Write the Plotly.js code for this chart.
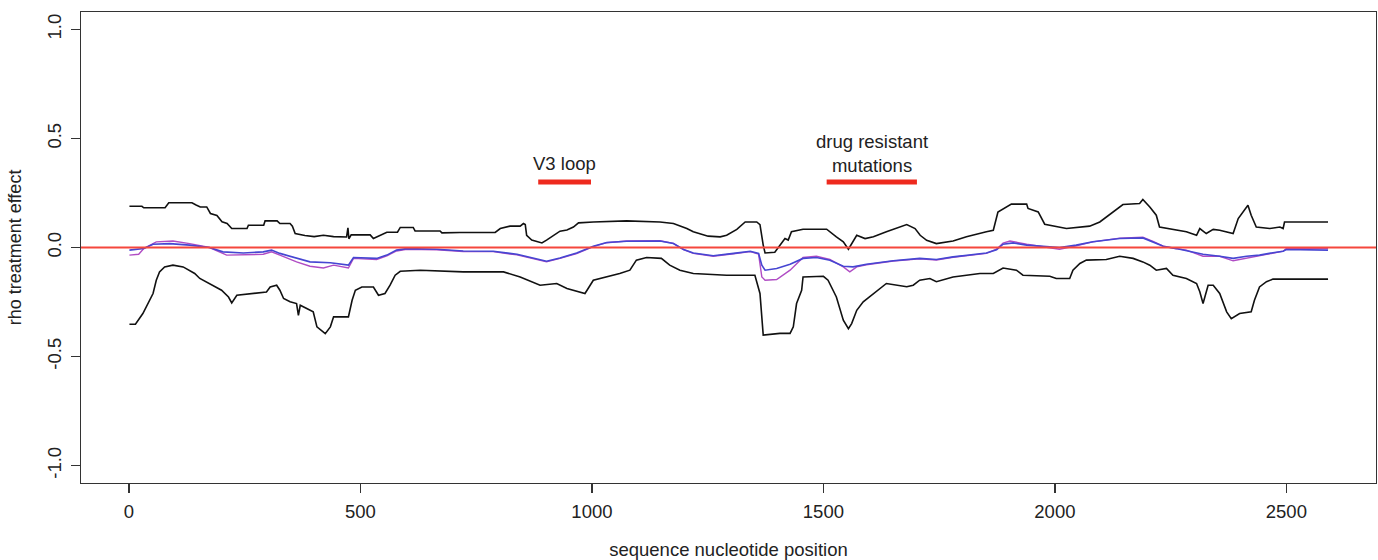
<!DOCTYPE html>
<html>
<head>
<meta charset="utf-8">
<script src="https://cdn.plot.ly/plotly-3.0.1.min.js"></script>
<style>html,body{margin:0;padding:0;background:#fff;}#chart{width:1378px;height:560px;}</style>
</head>
<body>
<div id="chart"></div>
<script>
// Upper interval bound (black)
const upperX = [1,28,32,78,86,136,145,154,168,176,190,201,212,222,255,258,291,294,320,326,348,353,359,380,400,420,442,470,473,475,480,521,528,536,550,557,580,586,614,618,672,676,715,791,802,823,845,852,856,859,870,892,902,917,931,946,960,971,1003,1075,1147,1176,1205,1219,1251,1277,1291,1313,1331,1356,1363,1370,1374,1395,1406,1417,1424,1431,1456,1507,1528,1543,1554,1564,1572,1590,1608,1636,1680,1698,1709,1723,1744,1780,1809,1852,1867,1877,1906,1939,1942,1964,1978,2025,2075,2097,2122,2147,2183,2190,2205,2219,2226,2255,2284,2306,2313,2327,2342,2356,2385,2396,2406,2417,2424,2435,2464,2486,2493,2496,2590];
const upperY = [0.189,0.189,0.182,0.182,0.205,0.205,0.195,0.186,0.186,0.156,0.147,0.118,0.110,0.087,0.087,0.102,0.102,0.122,0.122,0.110,0.110,0.098,0.064,0.055,0.050,0.056,0.050,0.048,0.090,0.040,0.058,0.058,0.041,0.048,0.064,0.070,0.070,0.092,0.092,0.076,0.076,0.067,0.069,0.069,0.087,0.098,0.098,0.110,0.105,0.056,0.034,0.021,0.034,0.056,0.075,0.080,0.094,0.113,0.117,0.122,0.117,0.110,0.087,0.072,0.052,0.049,0.056,0.083,0.117,0.117,0.105,0.011,-0.025,-0.022,0.011,0.041,0.034,0.072,0.084,0.084,0.049,0.026,-0.008,0.026,0.056,0.041,0.049,0.072,0.105,0.087,0.056,0.033,0.018,0.030,0.049,0.072,0.079,0.163,0.199,0.199,0.179,0.163,0.107,0.087,0.098,0.117,0.156,0.197,0.202,0.220,0.186,0.148,0.094,0.083,0.072,0.056,0.087,0.064,0.083,0.079,0.064,0.133,0.163,0.194,0.148,0.094,0.087,0.094,0.087,0.117,0.117];

// Lower interval bound (black)
const lowerX = [1,14,30,41,52,59,66,77,95,117,131,142,153,167,182,200,215,222,233,261,297,305,319,326,334,348,362,366,370,384,398,406,424,435,442,474,482,489,503,528,539,553,564,575,586,629,722,809,845,888,924,946,985,1003,1032,1060,1082,1096,1118,1150,1168,1190,1219,1291,1352,1363,1370,1406,1428,1435,1442,1453,1456,1500,1510,1528,1543,1554,1561,1572,1586,1608,1622,1636,1680,1694,1708,1730,1744,1780,1838,1867,1888,1917,1931,1989,2003,2032,2039,2054,2068,2111,2140,2169,2190,2205,2219,2241,2255,2284,2306,2313,2320,2331,2342,2356,2371,2381,2399,2424,2431,2442,2457,2471,2493,2590];
const lowerY = [-0.352,-0.352,-0.303,-0.257,-0.211,-0.150,-0.112,-0.089,-0.081,-0.089,-0.104,-0.119,-0.142,-0.157,-0.173,-0.196,-0.227,-0.254,-0.219,-0.211,-0.204,-0.181,-0.173,-0.196,-0.234,-0.249,-0.257,-0.311,-0.265,-0.280,-0.295,-0.364,-0.395,-0.364,-0.318,-0.318,-0.242,-0.196,-0.181,-0.181,-0.219,-0.211,-0.173,-0.127,-0.109,-0.104,-0.112,-0.112,-0.135,-0.173,-0.165,-0.188,-0.211,-0.150,-0.135,-0.119,-0.104,-0.058,-0.046,-0.050,-0.081,-0.104,-0.119,-0.127,-0.127,-0.211,-0.402,-0.394,-0.394,-0.364,-0.257,-0.196,-0.135,-0.132,-0.150,-0.227,-0.333,-0.372,-0.349,-0.288,-0.249,-0.211,-0.188,-0.165,-0.180,-0.173,-0.150,-0.142,-0.157,-0.135,-0.119,-0.119,-0.094,-0.104,-0.127,-0.132,-0.142,-0.142,-0.104,-0.073,-0.058,-0.055,-0.040,-0.050,-0.066,-0.081,-0.104,-0.096,-0.127,-0.142,-0.165,-0.203,-0.257,-0.173,-0.173,-0.211,-0.295,-0.326,-0.303,-0.295,-0.242,-0.181,-0.157,-0.145,-0.145,-0.145];

// Estimate 1 (blue)
const blueX = [1,32,52,88,131,174,203,247,290,308,326,362,391,435,474,485,535,557,578,600,665,722,787,838,874,902,931,967,1003,1032,1075,1147,1176,1198,1219,1262,1306,1342,1360,1367,1374,1399,1428,1456,1485,1514,1543,1564,1593,1651,1708,1744,1780,1852,1874,1888,1910,1939,2010,2046,2082,2140,2190,2212,2234,2262,2284,2320,2356,2385,2414,2442,2471,2493,2500,2590];
const blueY = [-0.012,-0.005,0.015,0.018,0.011,0.000,-0.020,-0.025,-0.020,-0.012,-0.027,-0.050,-0.066,-0.070,-0.081,-0.046,-0.050,-0.035,-0.012,-0.005,-0.008,-0.016,-0.017,-0.031,-0.050,-0.063,-0.048,-0.025,0.006,0.023,0.029,0.030,0.018,-0.009,-0.025,-0.038,-0.027,-0.017,-0.027,-0.081,-0.104,-0.096,-0.077,-0.050,-0.046,-0.058,-0.086,-0.089,-0.077,-0.061,-0.050,-0.055,-0.043,-0.025,-0.010,0.015,0.021,0.011,0.000,0.011,0.026,0.041,0.044,0.026,0.006,-0.005,-0.016,-0.031,-0.040,-0.050,-0.040,-0.035,-0.024,-0.017,-0.009,-0.012];

// Estimate 2 (purple)
const purpleX = [1,21,32,59,95,131,174,211,290,308,326,362,391,420,442,474,485,535,557,578,600,665,722,787,838,874,902,931,967,1003,1032,1075,1147,1176,1198,1219,1262,1306,1342,1360,1367,1374,1399,1428,1456,1485,1514,1543,1557,1572,1593,1651,1708,1744,1780,1852,1874,1888,1903,1939,2010,2046,2082,2140,2190,2212,2234,2262,2284,2320,2356,2385,2399,2442,2471,2493,2500,2590];
const purpleY = [-0.035,-0.031,-0.005,0.026,0.030,0.018,0.000,-0.035,-0.031,-0.020,-0.035,-0.066,-0.086,-0.094,-0.081,-0.094,-0.050,-0.055,-0.038,-0.016,-0.008,-0.010,-0.018,-0.019,-0.034,-0.053,-0.066,-0.050,-0.028,0.004,0.022,0.030,0.031,0.019,-0.010,-0.027,-0.040,-0.029,-0.019,-0.030,-0.135,-0.150,-0.147,-0.104,-0.046,-0.040,-0.055,-0.089,-0.112,-0.089,-0.079,-0.062,-0.052,-0.057,-0.045,-0.027,-0.008,0.020,0.030,0.015,-0.008,0.008,0.026,0.043,0.047,0.028,0.006,-0.005,-0.012,-0.040,-0.040,-0.061,-0.055,-0.038,-0.026,-0.017,-0.004,-0.004];

// Highlighted regions
const regionLabels = ["V3 loop", "drug resistant<br>mutations"];
const regionStart = [884, 1507];
const regionEnd = [998, 1702];
const regionBarY = [0.30, 0.30];
const regionLabelY = [0.385, 0.43];

// Axis ticks
const xTicks = [0, 500, 1000, 1500, 2000, 2500];
const yTicks = [-1, -0.5, 0, 0.5, 1];
const yTickText = ["-1.0", "-0.5", "0.0", "0.5", "1.0"];
const zeroLine = 0;

const FONT = '"Liberation Sans", Arial, Helvetica, sans-serif';
const TXT = '#222222';

const traces = [
  {x: upperX, y: upperY, mode: 'lines', line: {color: '#111111', width: 1.6}, hoverinfo: 'skip'},
  {x: lowerX, y: lowerY, mode: 'lines', line: {color: '#111111', width: 1.6}, hoverinfo: 'skip'},
  {x: purpleX, y: purpleY, mode: 'lines', line: {color: '#b04cc4', width: 1.4}, hoverinfo: 'skip'},
  {x: blueX, y: blueY, mode: 'lines', line: {color: '#4646d2', width: 1.6}, hoverinfo: 'skip'}
];
regionLabels.forEach((lab, i) => {
  traces.push({x: [regionStart[i], regionEnd[i]], y: [regionBarY[i], regionBarY[i]], mode: 'lines',
    line: {color: '#ee2a1e', width: 5}, hoverinfo: 'skip'});
});

const annotations = regionLabels.map((lab, i) => ({
  x: (regionStart[i] + regionEnd[i]) / 2, y: regionLabelY[i], xref: 'x', yref: 'y',
  text: lab, showarrow: false, font: {family: FONT, size: 18.5, color: TXT}, align: 'center'
}));

const layout = {
  width: 1378, height: 560,
  margin: {l: 81, r: 2, t: 12, b: 77},
  paper_bgcolor: '#ffffff', plot_bgcolor: '#ffffff',
  showlegend: false,
  font: {family: FONT, size: 18.5, color: TXT},
  xaxis: {
    range: [-103.6, 2693.6], tickmode: 'array', tickvals: xTicks,
    ticks: 'outside', ticklen: 9, tickwidth: 1.3, tickcolor: '#333',
    showline: true, mirror: true, linecolor: '#333', linewidth: 1.3,
    showgrid: false, zeroline: false, ticklabelstandoff: 2,
    tickfont: {family: FONT, size: 18.5, color: TXT},
    title: {text: 'sequence nucleotide position', font: {family: FONT, size: 18.5, color: TXT}, standoff: 22}
  },
  yaxis: {
    range: [-1.08, 1.08], tickmode: 'array', tickvals: yTicks, ticktext: yTickText,
    tickangle: -90,
    ticks: 'outside', ticklen: 9, tickwidth: 1.3, tickcolor: '#333',
    showline: true, mirror: true, linecolor: '#333', linewidth: 1.3,
    showgrid: false, zeroline: false, ticklabelstandoff: 2,
    tickfont: {family: FONT, size: 18.5, color: TXT},
    title: {text: 'rho treatment effect', font: {family: FONT, size: 18, color: TXT}, standoff: 18}
  },
  shapes: [{type: 'line', xref: 'paper', x0: 0, x1: 1, yref: 'y', y0: zeroLine, y1: zeroLine,
    line: {color: '#f5473c', width: 2}, layer: 'above'}],
  annotations: annotations
};

Plotly.newPlot('chart', traces, layout, {displayModeBar: false, staticPlot: true});
</script>
</body>
</html>
